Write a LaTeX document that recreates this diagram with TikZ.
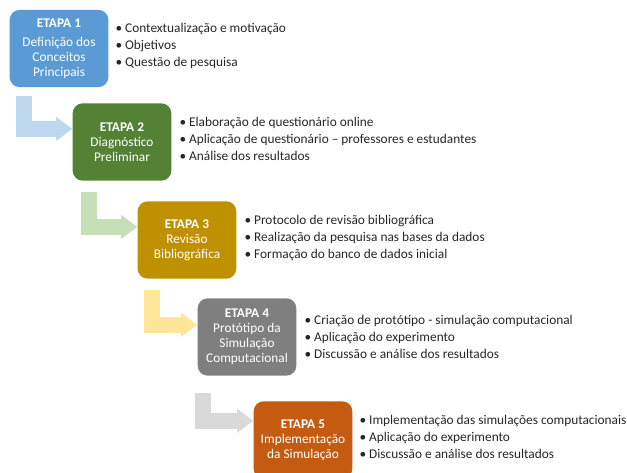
\documentclass[tikz,border=0pt]{standalone}
\usepackage{fontspec}
\setmainfont{Carlito}
\usetikzlibrary{arrows.meta,calc}

\definecolor{etapaA}{RGB}{91,155,213}
\definecolor{etapaB}{RGB}{84,130,53}
\definecolor{etapaC}{RGB}{191,144,0}
\definecolor{etapaD}{RGB}{127,127,127}
\definecolor{etapaE}{RGB}{197,90,17}
\definecolor{setaA}{RGB}{189,215,238}
\definecolor{setaB}{RGB}{197,224,180}
\definecolor{setaC}{RGB}{255,230,153}
\definecolor{setaD}{RGB}{217,217,217}
\definecolor{itemtext}{RGB}{38,38,38}

\tikzset{every picture/.style={line width=0.75pt}}
\tikzset{
  etapa/.style={rounded corners=7.5pt, minimum width=74pt, minimum height=58pt, inner sep=0pt,
    text=white, align=center, font=\fontsize{10}{11.25}\selectfont},
  itens/.style={anchor=west, inner sep=0.75pt, align=left, text=itemtext,
    font=\fontsize{10}{12.75}\selectfont},
  seta/.style={line width=12pt, line join=miter, -{Triangle[length=12pt, width=18pt, line width=0pt]}}
}

\begin{document}
\begin{tikzpicture}[x=0.75pt,y=0.75pt,yscale=-1,xscale=1]
\useasboundingbox (0,0) rectangle (627,473);
\clip (0,0) rectangle (627,473);

%Rounded Rect: etapa 1
\draw (59,48.5) node [etapa, fill=etapaA] (b1) {\textbf{ETAPA 1}\\[3pt]Definição dos\\Conceitos\\Principais};
%Rounded Rect: etapa 2
\draw (122,142) node [etapa, fill=etapaB] (b2) {\textbf{ETAPA 2}\\Diagnóstico\\Preliminar};
%Rounded Rect: etapa 3
\draw (187,240) node [etapa, fill=etapaC] (b3) {\textbf{ETAPA 3}\\Revisão\\Bibliográfica};
%Rounded Rect: etapa 4
\draw (247,337) node [etapa, fill=etapaD] (b4) {\textbf{ETAPA 4}\\Protótipo da\\Simulação\\Computacional};
%Rounded Rect: etapa 5
\draw (303,440) node [etapa, fill=etapaE] (b5) {\textbf{ETAPA 5}\\Implementação\\da Simulação};

%Bent Arrows
\coordinate (s1) at (24,96);
\coordinate (s2) at (89,192);
\coordinate (s3) at (152,290);
\coordinate (s4) at (203,393);
\draw [seta, color=setaA] (s1) |- ($(b2.north west)+(0,26)$);
\draw [seta, color=setaB] (s2) |- ($(b3.north west)+(0,26)$);
\draw [seta, color=setaC] (s3) |- ($(b4.north west)+(0,27)$);
\draw [seta, color=setaD] (s4) |- ($(b5.north west)+(0,20)$);

% Text Node
\draw (114,46) node [itens] (t1) {\textbullet\ Contextualização e motivação\\\textbullet\ Objetivos\\\textbullet\ Questão de pesquisa};
% Text Node
\draw (178,139) node [itens] (t2) {\textbullet\ Elaboração de questionário online\\\textbullet\ Aplicação de questionário -- professores e estudantes\\\textbullet\ Análise dos resultados};
% Text Node
\draw (243,238) node [itens] (t3) {\textbullet\ Protocolo de revisão bibliográfica\\\textbullet\ Realização da pesquisa nas bases da dados\\\textbullet\ Formação do banco de dados inicial};
% Text Node
\draw (303,337) node [itens] (t4) {\textbullet\ Criação de protótipo - simulação computacional\\\textbullet\ Aplicação do experimento\\\textbullet\ Discussão e análise dos resultados};
% Text Node
\draw (358,437) node [itens] (t5) {\textbullet\ Implementação das simulações computacionais\\\textbullet\ Aplicação do experimento\\\textbullet\ Discussão e análise dos resultados};

\end{tikzpicture}
\end{document}
